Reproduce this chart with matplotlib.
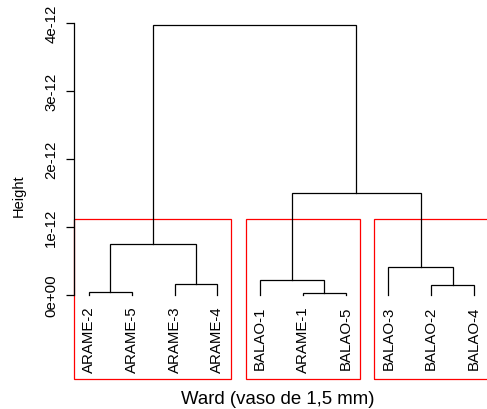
import matplotlib
matplotlib.use("Agg")
import matplotlib.pyplot as plt
from matplotlib.patches import Rectangle

plt.rcParams['font.family'] = ['Liberation Sans', 'DejaVu Sans']

# leaf order as drawn, merges in hclust style (negative = leaf, positive = earlier merge)
labels = ['ARAME-2', 'ARAME-5', 'ARAME-3', 'ARAME-4', 'BALAO-1',
          'ARAME-1', 'BALAO-5', 'BALAO-3', 'BALAO-2', 'BALAO-4']
merges = [(-6, -7), (-1, -2), (-9, -10), (-3, -4), (-5, 1),
          (-8, 3), (2, 4), (5, 6), (7, 8)]
heights = [0.02e-12, 0.035e-12, 0.143e-12, 0.153e-12, 0.212e-12,
           0.404e-12, 0.743e-12, 1.50e-12, 3.975e-12]
yticks = [0, 1e-12, 2e-12, 3e-12, 4e-12]
ytick_labels = ['0e+00', '1e-12', '2e-12', '3e-12', '4e-12']
groups = [(1, 4), (5, 7), (8, 10)]  # rect.hclust(k = 3)

W, H = 487, 410
fig = plt.figure(figsize=(W / 100, H / 100), dpi=100)
ax = fig.add_axes([73.6 / W, (H - 380) / H, 415.8 / W, 370 / H])
ax.set_xlim(0.64, 10.36)
ax.set_ylim(-1.243e-12, 4.21e-12)

def node_pos(ref):
    if ref < 0:
        return -ref, 0.0
    return pos[ref - 1]

pos = []
for (a, b), h in zip(merges, heights):
    xa, ya = node_pos(a)
    xb, yb = node_pos(b)
    ax.plot([xa, xa, xb, xb], [ya, h, h, yb], color='black', lw=0.9,
            solid_joinstyle='miter')
    pos.append(((xa + xb) / 2, h))

for i, lab in enumerate(labels):
    ax.annotate(lab, (i + 1, 0), xytext=(0, -8), textcoords='offset points',
                rotation=90, ha='center', va='top', fontsize=10.8,
                annotation_clip=False)

# red boxes cut between the 2nd and 3rd highest merges
srt = sorted(heights)
top = (srt[-2] + srt[-3]) / 2
ybot = ax.get_ylim()[0]
for lo, hi in groups:
    ax.add_patch(Rectangle((lo - 0.34, ybot), hi - lo + 0.67, top - ybot,
                           fill=False, edgecolor='red', lw=0.9, clip_on=False))

for s in ['top', 'right', 'bottom']:
    ax.spines[s].set_visible(False)
ax.spines['left'].set_bounds(0, 4e-12)
ax.spines['left'].set_linewidth(0.9)
ax.set_xticks([])
ax.set_yticks(yticks)
ax.set_yticklabels(ytick_labels, rotation=90, va='center', fontsize=10.8)
ax.tick_params(axis='y', length=6, width=0.9, pad=5)

fig.text(19 / W, 1 - 196 / H, 'Height', rotation=90, ha='center', va='center',
         fontsize=10.5)
fig.text(278 / W, 1 - 400 / H, 'Ward (vaso de 1,5 mm)', ha='center',
         va='center', fontsize=13.4)

fig.savefig('out.png', dpi=100)
